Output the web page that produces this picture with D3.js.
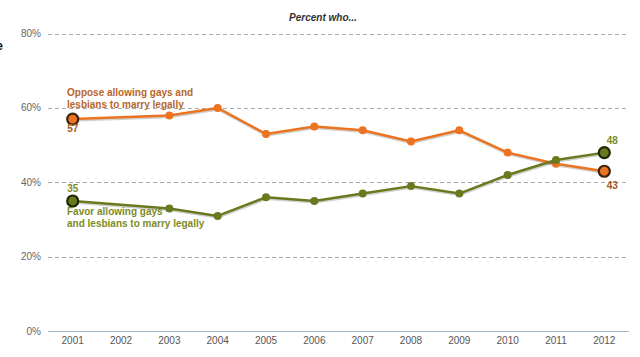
<!DOCTYPE html>
<html><head><meta charset="utf-8">
<script src="https://cdn.jsdelivr.net/npm/d3@7"></script>
<style>body{margin:0;background:#fff;}svg{display:block;font-family:Arial,"Liberation Sans",sans-serif;}</style>
</head><body><svg id="c" width="640" height="357"></svg>
<script>
const years = [2001,2002,2003,2004,2005,2006,2007,2008,2009,2010,2011,2012];
const opposeYears = [2001,2003,2004,2005,2006,2007,2008,2009,2010,2011,2012];
const opposeValues = [57,58,60,53,55,54,51,54,48,45,43];
const favorYears = [2001,2003,2004,2005,2006,2007,2008,2009,2010,2011,2012];
const favorValues = [35,33,31,36,35,37,39,37,42,46,48];
const yTicks = [0,20,40,60,80];
const title = "Percent who...";
const opposeLabel = ["Oppose allowing gays and","lesbians to marry legally"];
const favorLabel = ["Favor allowing gays","and lesbians to marry legally"];

const svg = d3.select("#c");
const x = d3.scalePoint().domain(years).range([72.7,604.3]);
const y = d3.scaleLinear().domain([0,80]).range([331.3,33.5]);

// cut-off heading fragment at left edge
svg.append("text").attr("x",3).attr("y",50).attr("text-anchor","end")
  .attr("font-size",13).attr("font-weight","bold").attr("fill","#111").text("e");

svg.append("text").attr("x",323).attr("y",21).attr("text-anchor","middle")
  .attr("font-size",10).attr("font-weight","bold").attr("font-style","italic")
  .attr("fill","#333").text(title);

// gridlines
svg.append("g").selectAll("line").data(yTicks.filter(d=>d>0)).join("line")
  .attr("x1",48).attr("x2",629).attr("y1",d=>Math.round(y(d))+0.5).attr("y2",d=>Math.round(y(d))+0.5)
  .attr("stroke","#aaa").attr("stroke-width",1).attr("stroke-dasharray","4,3");
svg.append("line").attr("x1",48).attr("x2",629)
  .attr("y1",Math.round(y(0))+0.5).attr("y2",Math.round(y(0))+0.5)
  .attr("stroke","#a3b6cc").attr("stroke-width",1);

// y labels
svg.append("g").selectAll("text").data(yTicks).join("text")
  .attr("x",41).attr("y",d=>y(d)+3.5).attr("text-anchor","end")
  .attr("font-size",10).attr("fill","#666").text(d=>d+"%");

// x labels
svg.append("g").selectAll("text").data(years).join("text")
  .attr("x",d=>x(d)).attr("y",344).attr("text-anchor","middle")
  .attr("font-size",10).attr("fill","#555").text(d=>d);

function series(yrs, vals, color, dark){
  const pts = yrs.map((yr,i)=>({yr,v:vals[i]}));
  const line = d3.line().x(d=>x(d.yr)).y(d=>y(d.v));
  svg.append("path").datum(pts).attr("d",line).attr("fill","none")
    .attr("stroke","rgba(0,0,0,0.18)").attr("stroke-width",2.5).attr("transform","translate(0.5,1.5)");
  svg.append("path").datum(pts).attr("d",line).attr("fill","none")
    .attr("stroke",color).attr("stroke-width",2.5).attr("stroke-linejoin","round");
  const mid = pts.slice(1,-1);
  svg.append("g").selectAll("circle").data(mid).join("circle")
    .attr("cx",d=>x(d.yr)).attr("cy",d=>y(d.v)).attr("r",4).attr("fill",color);
  const ends = [pts[0],pts[pts.length-1]];
  svg.append("g").selectAll("circle").data(ends).join("circle")
    .attr("cx",d=>x(d.yr)).attr("cy",d=>y(d.v)).attr("r",5.5).attr("fill",color)
    .attr("stroke",dark).attr("stroke-width",2.2);
  return pts;
}
const op = series(opposeYears, opposeValues, "#ec7320", "#3b2410");
const fv = series(favorYears, favorValues, "#687a1e", "#1f2806");

// labels
const oppColor = "#b8662a", favColor = "#7d8b26";
svg.append("g").selectAll("text").data(opposeLabel).join("text")
  .attr("x",67).attr("y",(d,i)=>96+i*11.5).attr("font-size",10).attr("font-weight","bold")
  .attr("fill",oppColor).text(d=>d);
svg.append("g").selectAll("text").data(favorLabel).join("text")
  .attr("x",67).attr("y",(d,i)=>215+i*11.5).attr("font-size",10).attr("font-weight","bold")
  .attr("fill",favColor).text(d=>d);

svg.append("text").attr("x",x(op[0].yr)).attr("y",y(op[0].v)+13).attr("text-anchor","middle")
  .attr("font-size",10).attr("font-weight","bold").attr("fill","#a8561c").text(op[0].v);
svg.append("text").attr("x",x(op[op.length-1].yr)+8).attr("y",y(op[op.length-1].v)+18).attr("text-anchor","middle")
  .attr("font-size",10).attr("font-weight","bold").attr("fill","#a8561c").text(op[op.length-1].v);
svg.append("text").attr("x",x(fv[0].yr)).attr("y",y(fv[0].v)-9).attr("text-anchor","middle")
  .attr("font-size",10).attr("font-weight","bold").attr("fill","#7d8b26").text(fv[0].v);
svg.append("text").attr("x",x(fv[fv.length-1].yr)+8).attr("y",y(fv[fv.length-1].v)-9).attr("text-anchor","middle")
  .attr("font-size",10).attr("font-weight","bold").attr("fill","#7d8b26").text(fv[fv.length-1].v);
</script></body></html>
